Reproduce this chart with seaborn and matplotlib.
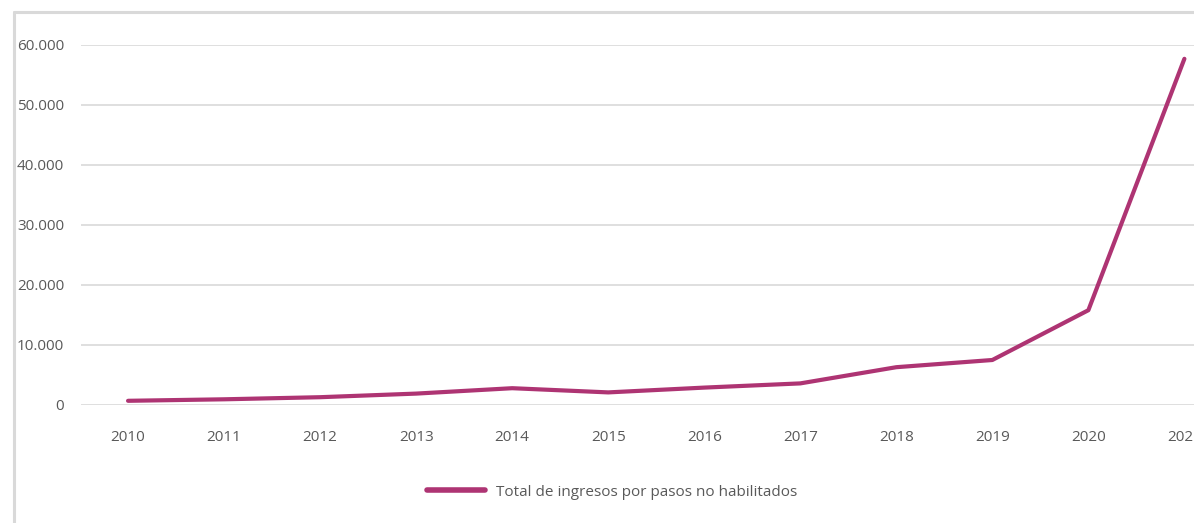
import matplotlib
matplotlib.use("Agg")
import matplotlib.pyplot as plt
from matplotlib.lines import Line2D
from matplotlib.ticker import FuncFormatter, MultipleLocator
import seaborn as sns
import pandas as pd

# Ingresos por pasos no habilitados, por año
years = ["2010", "2011", "2012", "2013", "2014", "2015",
         "2016", "2017", "2018", "2019", "2020", "2021"]
ingresos = [700, 950, 1300, 1900, 2800, 2100,
            2900, 3600, 6300, 7500, 15800, 57700]
series_label = "Total de ingresos por pasos no habilitados"

df = pd.DataFrame({"Año": years, "Ingresos": ingresos})

sns.set_theme(style="white")
plt.rcParams["font.family"] = ["Open Sans", "DejaVu Sans"]

line_color = "#AE3473"
grid_color = "#D9D9D9"
text_color = "#595959"

fig = plt.figure(figsize=(11.94, 5.23), dpi=100)
ax = fig.add_axes([81 / 1194, 118 / 523, 1113 / 1194, 360 / 523])

sns.lineplot(data=df, x="Año", y="Ingresos", ax=ax, color=line_color,
             linewidth=3.0, label=series_label, sort=False)
for ln in ax.lines:
    ln.set_solid_capstyle("round")
    ln.set_solid_joinstyle("round")

ax.set_ylim(0, 60000)
ax.set_xlim(-0.49, 11.1)
ax.yaxis.set_major_locator(MultipleLocator(10000))
ax.yaxis.set_major_formatter(
    FuncFormatter(lambda v, _: f"{int(v):,}".replace(",", ".")))
ax.grid(axis="y", color=grid_color, linewidth=1.2)
ax.grid(axis="x", visible=False)
ax.set_axisbelow(True)
for side in ["top", "right", "left", "bottom"]:
    ax.spines[side].set_visible(False)
ax.set_xlabel("")
ax.set_ylabel("")
ax.tick_params(axis="y", length=0, pad=12, labelsize=11, labelcolor=text_color)
ax.tick_params(axis="x", length=0, pad=18, labelsize=11, labelcolor=text_color)
for lbl in ax.get_xticklabels():
    lbl.set_clip_on(False)

leg = ax.legend(loc="center", bbox_to_anchor=(612 / 1194, 1 - 492 / 523),
                bbox_transform=fig.transFigure, frameon=False, fontsize=11,
                handlelength=3.8, handletextpad=0.7)
for h in leg.get_lines():
    h.set_linewidth(4)
    h.set_solid_capstyle("round")
for t in leg.get_texts():
    t.set_color(text_color)

# light frame along the top and left edges
fig.add_artist(Line2D([14 / 1194, 14 / 1194], [0, 1 - 12 / 523],
                      transform=fig.transFigure, color=grid_color, linewidth=2.2))
fig.add_artist(Line2D([14 / 1194, 1], [1 - 12 / 523, 1 - 12 / 523],
                      transform=fig.transFigure, color=grid_color, linewidth=2.2))

fig.savefig("out.png", dpi=100)
